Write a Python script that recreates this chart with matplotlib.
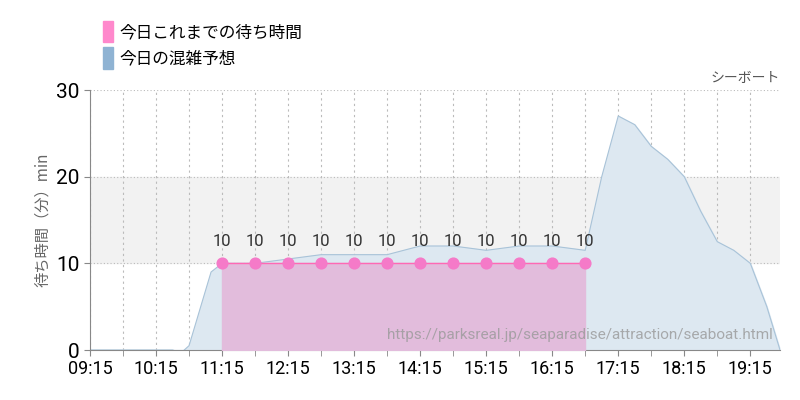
import matplotlib
matplotlib.use("Agg")
import matplotlib.pyplot as plt
from matplotlib.patches import Patch

plt.rcParams["font.family"] = ["Noto Sans CJK JP"]

def hm(s):
    h, m = s.split(":"); return int(h) * 60 + int(m)

fc_times = ["09:15","10:00","10:30","10:38","10:45","11:05","11:15","11:45","12:15","12:45","13:15","13:45","14:15","14:45","15:15","15:45","16:15","16:45","17:00","17:15","17:30","17:45","18:00","18:15","18:30","18:45","19:00","19:15","19:30","19:42"]
fc_vals = [0,0,0,-0.3,0.5,9,10,10,10.5,11,11,11,12,12,11.5,12,12,11.5,20,27,26,23.5,22,20,16,12.5,11.5,10,5,0]
act_times = ["11:15","11:45","12:15","12:45","13:15","13:45","14:15","14:45","15:15","15:45","16:15","16:45"]
act_vals = [10,10,10,10,10,10,10,10,10,10,10,10]
tick_labels = ["09:15","10:15","11:15","12:15","13:15","14:15","15:15","16:15","17:15","18:15","19:15"]

fx = [hm(t) for t in fc_times]
ax_ = [hm(t) for t in act_times]

fig = plt.figure(figsize=(8, 4), dpi=100)
ax = fig.add_axes([0.1125, 0.125, 0.8625, 0.65])
ax.axhspan(10, 20, color="#f2f2f2", zorder=0)
ax.fill_between(fx, fc_vals, color="#dde8f1", zorder=1)
ax.plot(fx, fc_vals, color="#a9c3d8", lw=0.8, zorder=2)
ax.fill_between(ax_, act_vals, color="#e2bcdc", zorder=3)
ax.plot(ax_, act_vals, color="#ff69b4", lw=1, zorder=4)
ax.scatter(ax_, act_vals, s=60, color="#f57ac8", zorder=5)
for x, v in zip(ax_, act_vals):
    ax.text(x, v + 1.6, str(v), ha="center", va="bottom", fontsize=12, color="#333", family="Roboto")

ax.set_xlim(hm("09:15"), hm("19:42"))
ax.set_ylim(0, 30)
ax.set_xticks([hm(t) for t in tick_labels])
ax.set_xticklabels(tick_labels, fontsize=13, family="Roboto")
ax.set_xticks(range(hm("09:45"), hm("19:42"), 60), minor=True)
ax.set_yticks([0, 10, 20, 30])
ax.set_yticklabels(["0", "10", "20", "30"], fontsize=15, family="Roboto")
for x in range(hm("09:15"), hm("19:42"), 30):
    ax.axvline(x, color="#bbb", ls=(0, (2, 3)), lw=0.8, zorder=0.5)
for y in [10, 20, 30]:
    ax.axhline(y, color="#bbb", ls=(0, (1, 2)), lw=0.8, zorder=0.5)
for s in ["top", "right"]:
    ax.spines[s].set_visible(False)
ax.spines["left"].set_color("#888")
ax.spines["bottom"].set_color("#888")
ax.tick_params(which="both", length=4, color="#888")
ax.set_ylabel("待ち時間（分）min", fontsize=11, color="#666")
ax.text(1.0, 1.02, "シーボート", transform=ax.transAxes, ha="right", va="bottom", fontsize=10, color="#555")
ax.text(0.99, 0.03, "https://parksreal.jp/seaparadise/attraction/seaboat.html", transform=ax.transAxes,
        ha="right", va="bottom", fontsize=11, color="#999", alpha=0.8, family="Roboto", zorder=6)

fig.legend(handles=[Patch(color="#ff88cc"), Patch(color="#8fb3d3")],
           labels=["今日これまでの待ち時間", "今日の混雑予想"],
           loc="upper left", bbox_to_anchor=(0.11, 0.985), frameon=False,
           fontsize=12, handlelength=0.6, handleheight=1.6, handletextpad=0.4, labelspacing=0.3)
fig.savefig("out.png")
